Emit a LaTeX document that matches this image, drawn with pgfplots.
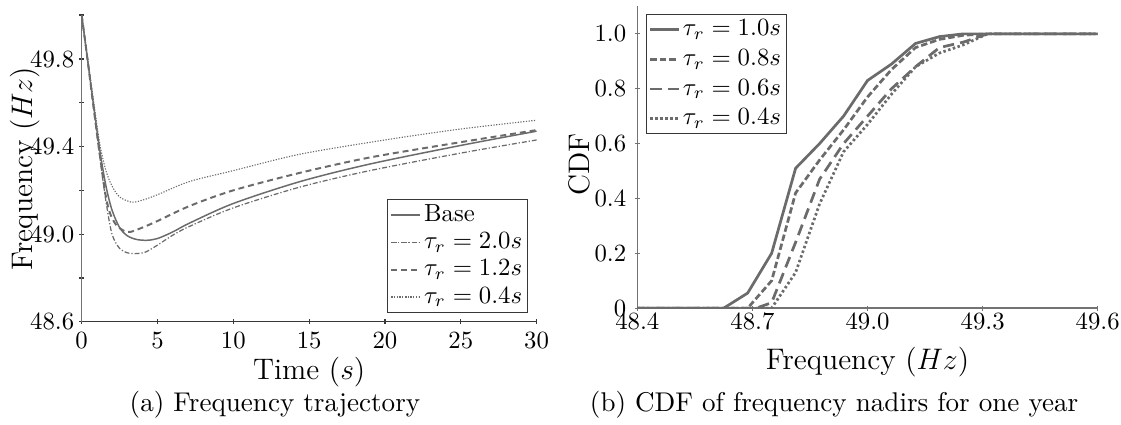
\documentclass[border=0pt]{standalone}
\usepackage{pgfplots}
\pgfplotsset{compat=1.18}
\definecolor{lc}{gray}{0.42}
\definecolor{ac}{gray}{0.22}
\definecolor{ag}{gray}{0.45}

\pgfplotstableread{
t f
0 50.0
0.4 49.79
0.8 49.58
1.2 49.38
1.6 49.22
2.0 49.11
2.5 49.03
3.0 48.993
3.6 48.976
4.3 48.972
5.0 48.98
6.0 49.01
7.1 49.05
10 49.14
14.4 49.24
19 49.32
25 49.405
30 49.47
}\base
\pgfplotstableread{
t f
0 50.0
0.4 49.79
0.8 49.57
1.2 49.35
1.6 49.15
2.0 49.0
2.5 48.935
3.0 48.915
3.5 48.911
4.2 48.918
5.0 48.95
6.0 48.995
7.1 49.035
10 49.12
14.4 49.215
19 49.29
25 49.37
30 49.43
}\tauA
\pgfplotstableread{
t f
0 50.0
0.4 49.79
0.8 49.57
1.2 49.36
1.6 49.17
1.9 49.09
2.3 49.04
2.8 49.015
3.2 49.01
4.0 49.03
5.0 49.06
7.1 49.128
10 49.2
14.4 49.28
19 49.35
25 49.42
30 49.475
}\tauB
\pgfplotstableread{
t f
0 50.0
0.4 49.8
0.8 49.6
1.2 49.41
1.6 49.29
2.0 49.22
2.5 49.17
3.3 49.146
4.0 49.155
5.0 49.18
7.1 49.24
10 49.29
14.4 49.365
20 49.43
25 49.48
30 49.52
}\tauC

\pgfplotstableread{
f c
48.4 0
48.625 0
48.6875 0.055
48.75 0.2
48.8125 0.51
48.875 0.6
48.9375 0.7
49.0 0.83
49.0625 0.89
49.125 0.965
49.1875 0.99
49.25 1.0
49.6 1.0
}\cdfA
\pgfplotstableread{
f c
48.4 0
48.6875 0
48.75 0.1
48.8125 0.42
48.875 0.54
48.9375 0.65
49.0 0.77
49.0625 0.87
49.125 0.95
49.1875 0.98
49.25 0.995
49.3125 1.0
49.6 1.0
}\cdfB
\pgfplotstableread{
f c
48.4 0
48.71 0
48.75 0.02
48.8125 0.24
48.875 0.47
48.9375 0.6
49.0 0.7
49.0625 0.8
49.125 0.88
49.1875 0.95
49.25 0.97
49.3125 1.0
49.6 1.0
}\cdfC
\pgfplotstableread{
f c
48.4 0
48.75 0
48.8125 0.13
48.875 0.38
48.9375 0.57
49.0 0.67
49.0625 0.78
49.125 0.88
49.1875 0.93
49.25 0.96
49.3125 1.0
49.6 1.0
}\cdfD

\begin{document}
\begin{tikzpicture}
\useasboundingbox (0,0) rectangle (452.9pt,171.7pt);
\begin{axis}[
  scale only axis, width=183.8pt, height=123.9pt,
  at={(33pt,41.7pt)}, anchor=south west,
  axis lines=left,
  x axis line style={-, ac, line width=0.5pt},
  y axis line style={-, ag, line width=0.6pt},
  tick style={ac, line width=0.5pt}, major tick length=2pt,
  xmin=0, xmax=30, ymin=48.6, ymax=50,
  xtick={0,5,...,30},
  ytick={48.6,48.8,49.0,49.2,49.4,49.6,49.8,50.0},
  yticklabels={48.6,,49.0,,49.4,,49.8,},
  yticklabel style={xshift=1.5pt},
  xlabel={\large Time $(s)$},
  ylabel={\large Frequency $(Hz)$},
  xlabel style={at={(axis description cs:0.5,-0.165)}, anchor=center},
  ylabel style={at={(axis description cs:-0.125,0.5)}, anchor=center},
  legend style={at={(rel axis cs:1,0)}, anchor=south east, xshift=-3.4pt, yshift=3.6pt,
    draw=ac, line width=0.5pt, inner sep=1pt, nodes={inner sep=1.2pt}, row sep=0.6pt},
  legend cell align=left,
  legend image code/.code={\draw[#1] plot coordinates {(0cm,0cm) (0.41cm,0cm)};},
]
\addplot[lc, line width=0.6pt, smooth] table[x=t,y=f] {\base};
\addlegendentry{Base}
\addplot[lc, line width=0.5pt, smooth, dash pattern=on 2pt off 0.8pt on 0.5pt off 0.8pt] table[x=t,y=f] {\tauA};
\addlegendentry{$\tau_r=2.0s$}
\addplot[lc, line width=0.8pt, smooth, dash pattern=on 2.4pt off 1.6pt] table[x=t,y=f] {\tauB};
\addlegendentry{$\tau_r=1.2s$}
\addplot[lc, line width=0.45pt, smooth, dash pattern=on 0.5pt off 0.6pt] table[x=t,y=f] {\tauC};
\addlegendentry{$\tau_r=0.4s$}
\end{axis}

\begin{axis}[
  scale only axis, width=186pt, height=121.9pt,
  at={(257.5pt,47.2pt)}, anchor=south west,
  axis lines=left, axis line style={-, ag, line width=0.6pt},
  tick style={ag, line width=0.5pt}, major tick length=2pt,
  xmin=48.4, xmax=49.6, ymin=0, ymax=1.1,
  xtick={48.4,48.7,49.0,49.3,49.6},
  xticklabels={48.4,48.7,49.0,49.3,49.6},
  ytick={0,0.2,0.4,0.6,0.8,1.0},
  yticklabels={0,0.2,0.4,0.6,0.8,1.0},
  xticklabel style={yshift=2.8pt},
  xlabel={\large Frequency $(Hz)$},
  ylabel={\large CDF},
  xlabel style={at={(axis description cs:0.5,-0.18)}, anchor=center},
  ylabel style={at={(axis description cs:-0.125,0.475)}, anchor=center},
  legend style={at={(rel axis cs:0,1)}, anchor=north west, xshift=3.5pt, yshift=-3pt,
    draw=ac, line width=0.5pt, inner sep=1pt, nodes={inner sep=1.2pt}, row sep=1.6pt},
  legend cell align=left,
  legend image code/.code={\draw[#1] plot coordinates {(0cm,0cm) (0.4cm,0cm)};},
]
\addplot[lc, line width=1.1pt] table[x=f,y=c] {\cdfA};
\addlegendentry{$\tau_r=1.0s$}
\addplot[lc, line width=1.1pt, dash pattern=on 2.6pt off 1.2pt] table[x=f,y=c] {\cdfB};
\addlegendentry{$\tau_r=0.8s$}
\addplot[lc, line width=1.1pt, dash pattern=on 4.5pt off 2.5pt] table[x=f,y=c] {\cdfC};
\addlegendentry{$\tau_r=0.6s$}
\addplot[lc, line width=1.1pt, dash pattern=on 1pt off 1pt] table[x=f,y=c] {\cdfD};
\addlegendentry{$\tau_r=0.4s$}
\end{axis}

\node[font=\fontsize{10.95}{13.6}\selectfont] at (111.1pt,8.1pt) {(a) Frequency trajectory};
\node[font=\fontsize{10.95}{13.6}\selectfont] at (337pt,8.1pt) {(b) CDF of frequency nadirs for one year};
\end{tikzpicture}
\end{document}
